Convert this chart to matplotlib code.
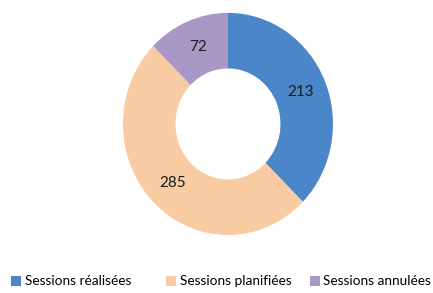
import numpy as np
import matplotlib.pyplot as plt
from matplotlib.patches import Patch

labels = ['Sessions réalisées', 'Sessions planifiées', 'Sessions annulées']
values = [213, 285, 72]
colors = ['#4A86C8', '#F9CBA2', '#A898C6']

fig = plt.figure(figsize=(4.33, 2.93), dpi=100)
ax = fig.add_axes([0.284, 0.198, 0.485, 0.758])
# donut, starting at 12 o'clock going clockwise
wedges, texts = ax.pie(values, colors=colors, startangle=90, counterclock=False,
                       radius=1.0, wedgeprops=dict(width=0.5, edgecolor='none'))
for w, v in zip(wedges, values):
    ang = np.deg2rad((w.theta1 + w.theta2) / 2)
    r = 0.75
    ax.text(r * np.cos(ang), r * np.sin(ang), str(v), ha='center', va='center',
            fontsize=11, color='#1a1a1a', family='Lato')
ax.set_aspect('auto')
ax.set_xlim(-1, 1)
ax.set_ylim(-1, 1)

# one legend per entry so the spacing follows the reference
leg_x = [0.026, 0.384, 0.715]
for c, lab, x in zip(colors, labels, leg_x):
    leg = fig.legend([Patch(facecolor=c, edgecolor='none')], [lab],
                     loc='center left', bbox_to_anchor=(x, 0.04),
                     frameon=False, handlelength=0.75, handleheight=0.75,
                     handletextpad=0.25, borderaxespad=0, borderpad=0,
                     prop={'family': 'Lato', 'size': 9.8})
fig.savefig('out.png', dpi=100)
